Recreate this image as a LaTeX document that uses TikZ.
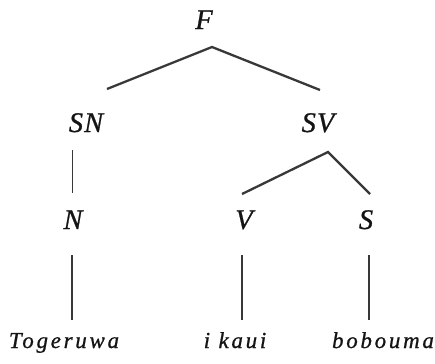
\documentclass[tikz,border=0pt]{standalone}
\usepackage{fontspec}
\setmainfont{Liberation Serif}
\newfontfamily\catfamily{Liberation Serif}[LetterSpace=4, FakeBold=0.8]
\newfontfamily\wordfamily{Liberation Serif}[LetterSpace=12, FakeBold=0.8]
\begin{document}
\begin{tikzpicture}[x=1bp, y=-1bp,
  cat/.style={font=\catfamily\itshape\fontsize{28.5}{28.5}\selectfont, anchor=base, inner sep=0pt, text=black!92},
  word/.style={font=\wordfamily\itshape\fontsize{23}{23}\selectfont, anchor=base, inner sep=0pt, text=black!92},
  branch/.style={line width=2.3bp, draw=black!78},
  stem/.style={line width=1.7bp, draw=black!78},
  thinstem/.style={line width=1.1bp, draw=black!78}]
  \useasboundingbox[fill=white] (0,0) rectangle (435,363);

  % category labels
  \node[cat] (F)  at (204,29)  {F};
  \node[cat] (SN) at (86,132)  {SN};
  \node[cat] (SV) at (318,132) {SV};
  \node[cat] (N)  at (73,229)  {N};
  \node[cat] (V)  at (244,229) {V};
  \node[cat] (S)  at (366,229) {S};

  % terminal words
  \node[word] (w1) at (64,348)  {Togeruwa};
  \node[word] (w2) at (235,348) {i kaui};
  \node[word] (w3) at (383,348) {bobouma};

  % branch end points
  \coordinate (Fb)   at (212,47);
  \coordinate (SNt)  at (107,89);
  \coordinate (SVt)  at (320,90);
  \coordinate (SNb)  at (72.5,150);
  \coordinate (Nt)   at (72.5,193);
  \coordinate (SVb)  at (328,152);
  \coordinate (Vt)   at (242,194);
  \coordinate (St)   at (370,194);
  \coordinate (Nb)   at (72,255);
  \coordinate (w1t)  at (72,320);
  \coordinate (Vb)   at (242,255);
  \coordinate (w2t)  at (242,320);
  \coordinate (Sb)   at (369,255);
  \coordinate (w3t)  at (369,320);

  % tree branches
  \draw[branch] (SNt) -- (Fb) -- (SVt);
  \draw[stem] (SNb) -- (Nt);
  \draw[branch] (Vt) -- (SVb) -- (St);
  \draw[stem] (Nb) -- (w1t);
  \draw[thinstem] (Vb) -- (w2t);
  \draw[stem] (Sb) -- (w3t);
\end{tikzpicture}
\end{document}
